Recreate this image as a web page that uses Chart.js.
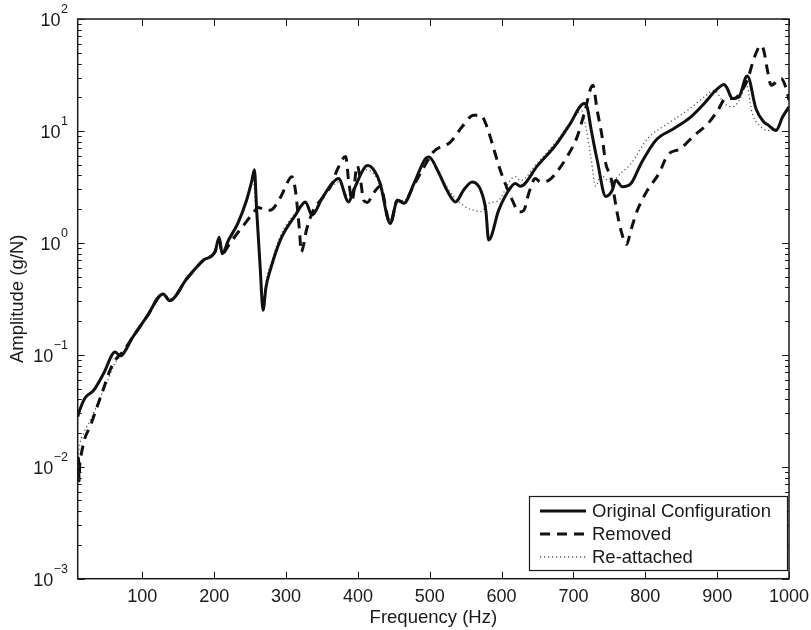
<!DOCTYPE html>
<html>
<head>
<meta charset="utf-8">
<title>Amplitude vs Frequency</title>
<script src="https://cdn.jsdelivr.net/npm/chart.js@4.4.0/dist/chart.umd.min.js"></script>
<style>
  html, body { margin: 0; padding: 0; background: #fff; }
  #wrap { width: 811px; height: 630px; }
</style>
</head>
<body>
<div id="wrap"><canvas id="frfChart" width="811" height="630"></canvas></div>
<script>
// series labels
const seriesNames = ['Original Configuration', 'Removed', 'Re-attached'];

// Original configuration (Hz, g/N)
const freqOriginal = [10, 12, 20, 32, 46, 62, 69, 87, 106, 129, 138, 162, 185, 201, 207, 211, 220, 233, 245, 252,
  256, 259, 264, 268, 272, 278, 292, 313, 327, 336, 350, 364, 373, 387, 394, 410, 414, 424, 431, 445,
  455, 464, 478, 494, 499, 512, 524, 536, 547, 559, 571, 578, 582, 596, 610, 619, 626, 650, 675, 694,
  715, 719, 725, 733, 745, 754, 759, 768, 780, 794, 815, 840, 863, 882, 898, 910, 914, 921, 930, 940,
  942, 954, 965, 970, 982, 991, 1000];
const ampOriginal = [0.028, 0.031, 0.041, 0.048, 0.068, 0.106, 0.098, 0.145, 0.218, 0.35, 0.305, 0.48, 0.70, 0.83, 1.12, 0.80, 1.06, 1.5, 2.4, 3.5,
  4.5, 2.0, 0.6, 0.25, 0.4, 0.57, 1.06, 1.77, 2.32, 1.77, 2.49, 3.39, 3.76, 2.32, 2.95, 4.77, 4.9, 4.3, 3.39, 1.49,
  2.4, 2.26, 3.39, 5.66, 5.86, 4.3, 2.95, 2.32, 2.95, 3.5, 2.95, 1.96, 1.06, 1.96, 2.95, 3.39, 3.2, 4.9, 7.45, 11.2,
  17.6, 16.4, 10, 5.5, 2.6, 2.95, 3.63, 3.17, 3.39, 5.1, 8.3, 10.5, 13.3, 17.6, 23, 26, 24, 19.5, 20, 30.3,
  31, 15.8, 12, 11.4, 10.1, 13.3, 16.4];

// Removed
const freqRemoved = [10, 11, 12, 13, 15, 20, 27, 36, 46, 55, 64, 72, 87, 106, 129, 138, 162, 185, 201, 207,
  211, 220, 227, 241, 252, 262, 270, 278, 292, 305, 308, 313, 319, 321, 329, 338, 350, 364, 371, 383,
  387, 392, 399, 404, 408, 413, 422, 431, 445, 455, 464, 478, 487, 505, 529, 545, 561, 571, 578, 587,
  596, 605, 615, 624, 631, 638, 647, 654, 666, 682, 691, 705, 715, 727, 733, 740, 745, 752, 761, 766,
  774, 780, 789, 803, 819, 831, 849, 868, 887, 901, 912, 924, 933, 942, 952, 961, 965, 970, 975, 989,
  996, 1000];
const ampRemoved = [0.008, 0.012, 0.0075, 0.011, 0.013, 0.018, 0.0227, 0.033, 0.05, 0.073, 0.093, 0.105, 0.145, 0.218, 0.35, 0.305, 0.48, 0.70, 0.83, 1.05,
  0.80, 0.95, 1.1, 1.44, 1.77, 2.07, 1.96, 1.96, 2.54, 3.76, 3.9, 2.95, 1.21, 0.83, 1.35, 1.96, 2.49, 3.39, 4.46, 5.9,
  3.63, 2.4, 4.9, 3.5, 2.4, 2.3, 2.8, 3.2, 1.5, 2.4, 2.3, 3.3, 4.17, 6.5, 8.0, 10.9, 13.8, 13.8, 11.6, 7.7,
  4.9, 3.39, 2.4, 1.89, 1.96, 2.8, 3.76, 3.5, 3.63, 4.77, 5.86, 8.8, 14.3, 25.6, 15.3, 8.8, 5.1, 3.88, 1.83, 1.3,
  0.97, 1.3, 1.96, 2.95, 4.17, 6.07, 6.96, 9.1, 11.6, 15.3, 19.5, 19.5, 22.3, 28.4, 45.8, 58, 52, 34.8, 25.6, 29.4,
  24, 18.8];

// Re-attached
const freqReattached = [10, 13, 20, 30, 40, 50, 62, 72, 87, 106, 129, 138, 162, 185, 201, 207, 211, 220, 233, 245,
  254, 258, 264, 268, 272, 280, 292, 313, 327, 336, 350, 364, 373, 387, 394, 410, 424, 431, 445, 455,
  464, 478, 494, 500, 512, 533, 552, 561, 571, 582, 596, 612, 619, 626, 650, 675, 694, 712, 717, 724,
  731, 738, 752, 766, 780, 803, 831, 859, 882, 896, 910, 921, 933, 940, 949, 961, 970, 982, 991, 1000];
const ampReattached = [0.012, 0.016, 0.021, 0.028, 0.04, 0.055, 0.085, 0.1, 0.145, 0.218, 0.35, 0.31, 0.48, 0.70, 0.85, 1.0, 0.85, 1.05, 1.5, 2.3,
  3.8, 2.0, 0.6, 0.28, 0.45, 0.68, 1.15, 1.85, 2.3, 1.85, 2.6, 3.2, 3.5, 2.6, 3.0, 4.5, 4.0, 3.2, 1.6, 2.4,
  2.4, 3.4, 5.4, 5.5, 4.2, 2.6, 2.05, 1.96, 1.9, 2.26, 2.4, 3.63, 3.9, 3.6, 5.2, 7.9, 11.5, 15, 11, 6,
  3.2, 4.0, 3.5, 4.2, 5.1, 8.5, 11.6, 15.3, 20.1, 23, 17.6, 16.4, 20.1, 27, 14.3, 10.9, 10.1, 10.5, 13, 16];

// axis ticks
const xTickValues = [100, 200, 300, 400, 500, 600, 700, 800, 900, 1000];
const yDecades = [-3, -2, -1, 0, 1, 2];

const ink = '#1a1a1a';
const fontFamily = '"Liberation Sans", Arial, Helvetica, sans-serif';

function toPoints(fs, as) {
  return fs.map((f, i) => ({ x: f, y: as[i] }));
}

// box, inward ticks, y labels with exponents, legend
const matlabAxes = {
  id: 'matlabAxes',
  afterDraw(chart) {
    const ctx = chart.ctx;
    const area = chart.chartArea;
    const xs = chart.scales.x;
    const ys = chart.scales.y;
    ctx.save();
    ctx.strokeStyle = ink;
    ctx.lineWidth = 1.5;
    ctx.strokeRect(area.left, area.top, area.right - area.left, area.bottom - area.top);

    ctx.lineWidth = 1;
    ctx.beginPath();
    xTickValues.forEach(v => {
      const px = Math.round(xs.getPixelForValue(v)) + 0.5;
      ctx.moveTo(px, area.bottom); ctx.lineTo(px, area.bottom - 7);
      ctx.moveTo(px, area.top); ctx.lineTo(px, area.top + 7);
    });
    yDecades.forEach(d => {
      const py = Math.round(ys.getPixelForValue(Math.pow(10, d))) + 0.5;
      ctx.moveTo(area.left, py); ctx.lineTo(area.left + 7, py);
      ctx.moveTo(area.right, py); ctx.lineTo(area.right - 7, py);
      if (d < 2) {
        for (let m = 2; m <= 9; m++) {
          const pm = Math.round(ys.getPixelForValue(m * Math.pow(10, d))) + 0.5;
          ctx.moveTo(area.left, pm); ctx.lineTo(area.left + 4, pm);
          ctx.moveTo(area.right, pm); ctx.lineTo(area.right - 4, pm);
        }
      }
    });
    ctx.stroke();

    // y tick labels 10^n
    ctx.fillStyle = ink;
    yDecades.forEach(d => {
      const py = ys.getPixelForValue(Math.pow(10, d));
      const exp = d < 0 ? '\u2212' + Math.abs(d) : String(d);
      ctx.font = '12.5px ' + fontFamily;
      const ew = ctx.measureText(exp).width;
      ctx.textBaseline = 'alphabetic';
      ctx.textAlign = 'left';
      const expX = 68 - ew;
      ctx.fillText(exp, expX, py - 6);
      ctx.font = '18px ' + fontFamily;
      ctx.textAlign = 'right';
      ctx.fillText('10', expX - 0.5, py + 7);
    });

    // legend
    const lx = 529, ly = 496, lw = 258, lh = 74;
    ctx.fillStyle = '#fff';
    ctx.fillRect(lx, ly, lw, lh);
    ctx.strokeStyle = ink;
    ctx.lineWidth = 1.2;
    ctx.strokeRect(lx + 0.5, ly + 0.5, lw, lh);
    chart.data.datasets.forEach((ds, i) => {
      const ry = ly + 15 + i * 23;
      ctx.save();
      ctx.strokeStyle = ds.borderColor;
      ctx.lineWidth = ds.borderWidth;
      ctx.setLineDash(ds.borderDash || []);
      ctx.beginPath();
      ctx.moveTo(lx + 11, ry); ctx.lineTo(lx + 57, ry);
      ctx.stroke();
      ctx.restore();
      ctx.fillStyle = ink;
      ctx.font = '18.5px ' + fontFamily;
      ctx.textAlign = 'left';
      ctx.textBaseline = 'middle';
      ctx.fillText(ds.label, lx + 63, ry + 1);
    });
    ctx.restore();
  }
};

const ctxFrf = document.getElementById('frfChart');
const frfChart = new Chart(ctxFrf, {
  type: 'line',
  data: {
    datasets: [
      {
        label: seriesNames[0],
        data: toPoints(freqOriginal, ampOriginal),
        borderColor: '#111',
        borderWidth: 3,
        pointRadius: 0,
        cubicInterpolationMode: 'monotone'
      },
      {
        label: seriesNames[1],
        data: toPoints(freqRemoved, ampRemoved),
        borderColor: '#111',
        borderWidth: 3,
        borderDash: [10, 7],
        pointRadius: 0,
        cubicInterpolationMode: 'monotone'
      },
      {
        label: seriesNames[2],
        data: toPoints(freqReattached, ampReattached),
        borderColor: '#555',
        borderWidth: 1.3,
        borderDash: [1.2, 2.8],
        pointRadius: 0,
        cubicInterpolationMode: 'monotone'
      }
    ]
  },
  options: {
    responsive: false,
    animation: false,
    layout: { padding: { top: 19, right: 22, left: 0, bottom: 0 } },
    plugins: {
      legend: { display: false },
      tooltip: { enabled: false }
    },
    scales: {
      x: {
        type: 'linear',
        min: 10,
        max: 1000,
        grid: { display: false },
        border: { display: false },
        afterBuildTicks: scale => { scale.ticks = xTickValues.map(v => ({ value: v })); },
        afterFit: scale => { scale.height = 51.3; },
        ticks: {
          color: ink,
          padding: 0,
          maxRotation: 0,
          autoSkip: false,
          font: { family: fontFamily, size: 18 },
          callback: v => String(v)
        },
        title: {
          display: true,
          text: 'Frequency (Hz)',
          color: ink,
          padding: { top: 0, bottom: 1 },
          font: { family: fontFamily, size: 18.5 }
        }
      },
      y: {
        type: 'logarithmic',
        min: 0.001,
        max: 100,
        grid: { display: false },
        border: { display: false },
        ticks: { display: false },
        afterFit: scale => { scale.width = 77.7; },
        title: {
          display: true,
          text: 'Amplitude (g/N)',
          color: ink,
          padding: { top: 7, bottom: 0 },
          font: { family: fontFamily, size: 18.5 }
        }
      }
    }
  },
  plugins: [matlabAxes]
});
</script>
</body>
</html>
